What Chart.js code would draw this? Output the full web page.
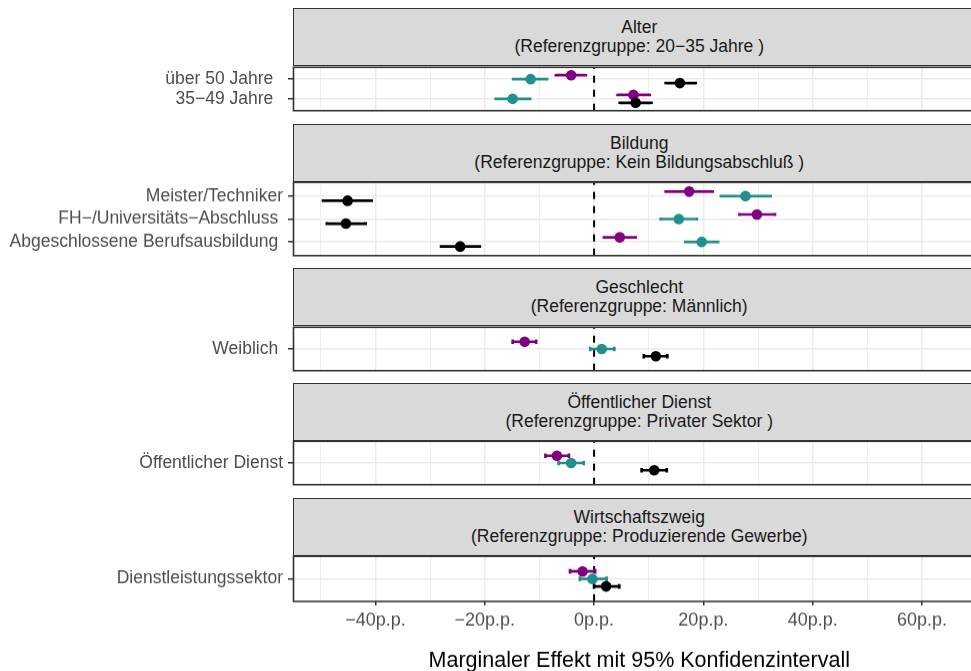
<!DOCTYPE html>
<html>
<head>
<meta charset="utf-8">
<script src="https://cdn.jsdelivr.net/npm/chart.js@4/dist/chart.umd.min.js"></script>
<style>
html,body{margin:0;padding:0;background:#fff;overflow:hidden;}
#wrap{position:relative;width:971px;height:671px;overflow:hidden;background:#fff;font-family:"Liberation Sans",Arial,sans-serif;}
.strip{position:absolute;box-sizing:border-box;background:#D9D9D9;border:1.6px solid #333333;color:#1A1A1A;font-size:17.5px;line-height:19px;text-align:center;display:flex;flex-direction:column;justify-content:center;white-space:pre;}
canvas{position:absolute;left:0;}
</style>
</head>
<body>
<div id="wrap"></div>
<script>
// ---------- DATA ----------
const panelTitles = ["Alter", "Bildung", "Geschlecht", "Öffentlicher Dienst", "Wirtschaftszweig"];
const referenceGroups = [
  "(Referenzgruppe: 20−35 Jahre )",
  "(Referenzgruppe: Kein Bildungsabschluß )",
  "(Referenzgruppe: Männlich)",
  "(Referenzgruppe: Privater Sektor )",
  "(Referenzgruppe: Produzierende Gewerbe)"
];
// categories, listed bottom to top inside each panel
const categoryLabels = ["35−49 Jahre  ", "über 50 Jahre  ",
  "Abgeschlossene Berufsausbildung ", "FH−/Universitäts−Abschluss ", "Meister/Techniker",
  "Weiblich ", "Öffentlicher Dienst", "Dienstleistungssektor"];
const categoryPanel = [0, 0, 1, 1, 1, 2, 3, 4];
const seriesNames = ["Modell 1", "Modell 2", "Modell 3"];
// marginal effects (percentage points) and 95% CI bounds
const est1  = [7.6, 15.7, -24.5, -45.4, -45.1, 11.3, 11.0, 2.2];
const low1  = [4.7, 13.1, -28.0, -48.9, -49.6, 9.1, 8.7, 0.0];
const high1 = [10.5, 18.6, -20.9, -41.8, -40.7, 13.4, 13.3, 4.6];
const est2  = [-14.9, -11.6, 19.7, 15.5, 27.7, 1.4, -4.2, -0.3];
const low2  = [-18.0, -14.8, 16.7, 12.2, 23.2, -0.7, -6.5, -2.6];
const high2 = [-11.7, -8.6, 22.7, 18.8, 32.3, 3.7, -1.9, 2.3];
const est3  = [7.2, -4.2, 4.7, 29.8, 17.4, -12.7, -6.8, -2.1];
const low3  = [4.3, -7.0, 1.8, 26.6, 13.1, -14.9, -8.9, -4.4];
const high3 = [10.2, -1.5, 7.6, 33.1, 21.7, -10.6, -4.6, 0.2];
const xTickValues = [-40, -20, 0, 20, 40, 60];
const xGridValues = [-50, -40, -30, -20, -10, 0, 10, 20, 30, 40, 50, 60, 70];
const xUnit = "p.p.";
const xTitle = "Marginaler Effekt mit 95% Konfidenzintervall";

// ---------- STYLE / LAYOUT ----------
const seriesColors = ["#000000", "#21908C", "#800080"];
const dodge = [-0.2, 0, 0.2];
const ests = [est1, est2, est3], lows = [low1, low2, low3], highs = [high1, high2, high3];
const stripTops = [9, 124.5, 269, 383.5, 498.5];
const STRIP_H = 56.5;
const plotHeights = [46.5, 75.5, 46, 46, 46.5];
const AREA_LEFT = 293.5, AREA_RIGHT = 985, CANVAS_W = 1000, M = 4, AXIS_H = 80;
const X_MIN = -55, X_MAX = 71.53;
const CAP_HALF = 0.065;

Chart.defaults.font.family = '"Liberation Sans", Arial, sans-serif';

const fmtTick = v => (v < 0 ? "−" + Math.abs(v) : String(v)) + xUnit;

const decoPlugin = {
  id: "deco",
  beforeDatasetsDraw(chart) {
    const {ctx, chartArea: a, scales: {x, y}} = chart;
    ctx.save();
    ctx.beginPath(); ctx.rect(a.left, a.top, a.width, a.height); ctx.clip();
    // zero reference line
    const x0 = x.getPixelForValue(0);
    ctx.setLineDash([7, 7]);
    ctx.lineWidth = 2;
    ctx.strokeStyle = "#000";
    ctx.beginPath(); ctx.moveTo(x0, a.bottom); ctx.lineTo(x0, a.top); ctx.stroke();
    ctx.setLineDash([]);
    // horizontal error bars
    ctx.lineWidth = 2.7;
    ctx.lineCap = "butt";
    for (let d = chart.data.datasets.length - 1; d >= 0; d--) {
      const ds = chart.data.datasets[d];
      ctx.strokeStyle = ds.backgroundColor;
      ds.data.forEach(p => {
        const yp = y.getPixelForValue(p.y);
        const yt = y.getPixelForValue(p.y + CAP_HALF), yb = y.getPixelForValue(p.y - CAP_HALF);
        const xl = x.getPixelForValue(p.lo), xh = x.getPixelForValue(p.hi);
        ctx.beginPath();
        ctx.moveTo(xl, yp); ctx.lineTo(xh, yp);
        ctx.moveTo(xl, yt); ctx.lineTo(xl, yb);
        ctx.moveTo(xh, yt); ctx.lineTo(xh, yb);
        ctx.stroke();
      });
    }
    ctx.restore();
  },
  afterDatasetsDraw(chart) {
    const {ctx, chartArea: a} = chart;
    ctx.save();
    ctx.strokeStyle = "#333333";
    ctx.lineWidth = 1.6;
    ctx.strokeRect(a.left, a.top, a.width, a.height);
    ctx.restore();
  }
};

const wrap = document.getElementById("wrap");

panelTitles.forEach((title, p) => {
  const isLast = p === panelTitles.length - 1;
  const plotTop = stripTops[p] + STRIP_H;
  const plotH = plotHeights[p];

  // strip
  const strip = document.createElement("div");
  strip.className = "strip";
  strip.style.left = (AREA_LEFT - 0.8) + "px";
  strip.style.top = (stripTops[p] - 0.8) + "px";
  strip.style.width = (AREA_RIGHT - AREA_LEFT + 1.6) + "px";
  strip.style.height = (STRIP_H + 1.6) + "px";
  const l1 = document.createElement("div"); l1.textContent = title;
  const l2 = document.createElement("div"); l2.textContent = referenceGroups[p];
  strip.appendChild(l1); strip.appendChild(l2);
  wrap.appendChild(strip);

  // categories of this panel
  const idx = [];
  categoryPanel.forEach((pp, i) => { if (pp === p) idx.push(i); });
  const labels = idx.map(i => categoryLabels[i]);
  const n = idx.length;

  const datasets = seriesNames.map((name, s) => ({
    label: name,
    data: idx.map((i, k) => ({x: ests[s][i], y: k + 1 + dodge[s], lo: lows[s][i], hi: highs[s][i]})),
    backgroundColor: seriesColors[s],
    borderColor: seriesColors[s],
    pointRadius: 5.3,
    pointHoverRadius: 5.3,
    pointBorderWidth: 0
  }));

  const canvas = document.createElement("canvas");
  const h = isLast ? (M + plotH + AXIS_H) : (plotH + 2 * M);
  canvas.width = CANVAS_W; canvas.height = h;
  canvas.style.width = CANVAS_W + "px"; canvas.style.height = h + "px";
  canvas.style.top = (plotTop - M) + "px";
  wrap.appendChild(canvas);

  new Chart(canvas, {
    type: "scatter",
    data: {datasets},
    plugins: [decoPlugin],
    options: {
      responsive: false,
      devicePixelRatio: 1,
      animation: false,
      events: [],
      layout: {padding: {top: M, bottom: isLast ? 0 : M, left: 0, right: CANVAS_W - AREA_RIGHT}},
      plugins: {legend: {display: false}, tooltip: {enabled: false}},
      scales: {
        x: {
          type: "linear", position: "bottom", min: X_MIN, max: X_MAX,
          afterBuildTicks: s => { s.ticks = xGridValues.map(v => ({value: v})); },
          afterFit: s => { s.height = isLast ? AXIS_H : 0; s.paddingLeft = 0; s.paddingRight = 0; },
          border: {display: false},
          grid: {
            color: "#EBEBEB",
            lineWidth: c => (c.tick && c.tick.value % 20 === 0) ? 1.5 : 0.8,
            drawTicks: isLast,
            tickLength: 4,
            tickWidth: 1.5,
            tickColor: c => (c.tick && xTickValues.includes(c.tick.value)) ? "#333333" : "rgba(0,0,0,0)"
          },
          ticks: {
            display: isLast, padding: 4.5, color: "#4D4D4D",
            font: {size: 18},
            maxRotation: 0, autoSkip: false,
            callback: v => xTickValues.includes(v) ? fmtTick(v) : ""
          },
          title: {
            display: isLast, text: xTitle, color: "#000000",
            font: {size: 21.5}, padding: {top: 0, bottom: 7.6}
          }
        },
        y: {
          type: "linear", position: "left", min: 0.4, max: n + 0.6,
          afterBuildTicks: s => { s.ticks = labels.map((_, k) => ({value: k + 1})); },
          afterFit: s => { s.width = AREA_LEFT; s.paddingTop = 0; s.paddingBottom = 0; },
          border: {display: false},
          grid: {color: "#EBEBEB", lineWidth: 1.5, tickLength: 5.5, tickWidth: 1.5, tickColor: "#333333"},
          ticks: {
            padding: 5, color: "#4D4D4D", font: {size: 17.5}, autoSkip: false,
            callback: (v, i) => labels[i]
          }
        }
      }
    }
  });
});
</script>
</body>
</html>
